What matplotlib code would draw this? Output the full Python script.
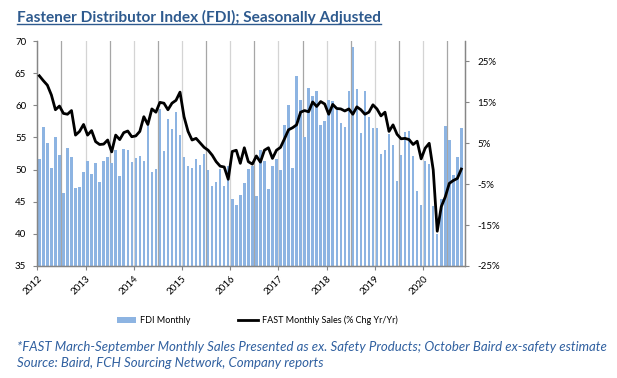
import matplotlib
matplotlib.use("Agg")
import matplotlib.pyplot as plt
import numpy as np
from matplotlib.lines import Line2D
from matplotlib.patches import Patch

plt.rcParams['font.family'] = ['Lato', 'DejaVu Sans']

# FDI monthly index, Jan 2012 .. Oct 2020
fdi = [51.7, 56.6, 54.2, 50.2, 55.1, 52.2, 46.4, 53.4, 52.0, 47.2, 47.3, 49.6,
       51.4, 49.3, 51.1, 48.1, 51.3, 51.9, 51.1, 53.1, 49.0, 53.2, 53.1, 51.2,
       51.8, 52.1, 51.4, 57.1, 49.7, 50.1, 59.4, 52.9, 57.8, 56.3, 59.0, 55.4,
       51.9, 50.6, 50.2, 51.6, 50.7, 52.5, 49.9, 47.5, 48.1, 50.1, 47.4, 50.5,
       45.5, 44.5, 46.1, 47.9, 50.1, 50.6, 45.9, 53.0, 51.4, 47.0, 50.6, 51.6,
       49.9, 57.0, 60.0, 50.2, 64.5, 60.8, 55.1, 62.7, 61.5, 62.2, 56.9, 57.5,
       60.8, 60.6, 59.2, 57.3, 56.6, 62.2, 69.1, 62.5, 55.7, 62.2, 58.2, 56.5,
       56.5, 52.5, 53.0, 55.6, 53.8, 48.3, 52.2, 55.8, 56.0, 52.1, 46.7, 44.5,
       51.4, 50.8, 44.4, 40.0, 45.5, 56.8, 54.6, 49.2, 52.0, 56.5]

# FAST monthly sales, % change yr/yr
fast = [21.5, 20.3, 19.2, 16.8, 13.2, 14.1, 12.3, 12.1, 13.0, 7.0, 7.9, 9.6,
        7.0, 8.1, 5.4, 4.7, 4.8, 5.8, 2.9, 7.0, 5.9, 7.6, 8.0, 6.6,
        6.8, 7.9, 11.5, 9.6, 13.4, 12.6, 15.0, 14.8, 13.2, 14.8, 15.5, 17.5,
        11.5, 7.9, 5.8, 6.2, 5.1, 4.0, 3.3, 2.1, 0.5, -0.6, -0.8, -3.8,
        3.0, 3.3, 0.1, 3.9, 0.5, -0.1, 1.9, 0.4, 3.3, 3.9, 1.3, 3.3,
        4.0, 6.1, 8.3, 8.8, 9.5, 12.6, 13.0, 12.7, 15.1, 14.0, 15.2, 14.6,
        12.1, 14.5, 13.5, 13.4, 12.9, 13.4, 12.1, 13.9, 13.2, 12.1, 12.6, 14.4,
        13.4, 11.7, 12.6, 7.9, 9.5, 7.2, 6.1, 6.2, 5.9, 4.7, 5.5, 1.2,
        3.8, 5.0, -1.5, -16.5, -10.5, -8.1, -4.8, -4.1, -3.6, -1.3]

years = ['2012', '2013', '2014', '2015', '2016', '2017', '2018', '2019', '2020']

months = np.arange(len(fdi)) + 0.5

fig = plt.figure(figsize=(6.17, 3.78), dpi=100)
ax = fig.add_axes([0.0605, 0.2963, 0.6931, 0.5952])

# vertical gridlines every half year
for m in range(6, 108, 6):
    c = '#D4D4D4' if m % 12 == 0 else '#A6A6A6'
    ax.axvline(m, color=c, linewidth=0.9, zorder=0)

ax.bar(months, fdi, width=0.62, color='#8DB4E2', zorder=2)
ax.set_ylim(35, 70)
ax.set_xlim(0, 106.4)
ax.set_yticks(range(35, 71, 5))
ax.set_xticks([12 * i for i in range(len(years))])
ax.set_xticklabels(years, rotation=45, ha='right', rotation_mode='anchor')

ax2 = ax.twinx()
ax2.plot(months, fast, color='black', linewidth=2, solid_joinstyle='round', zorder=3)
ax2.set_ylim(-25, 30)
ax2.set_yticks(range(-25, 26, 10))
ax2.set_yticklabels([f'{v}%' for v in range(-25, 26, 10)])

for a in (ax, ax2):
    a.spines['top'].set_visible(False)
    for s in ('left', 'right', 'bottom'):
        a.spines[s].set_color('#868686')
        a.spines[s].set_linewidth(0.9)
    a.tick_params(colors='#868686', labelcolor='black', labelsize=7, length=3, width=0.8)
ax.tick_params(axis='x', pad=3)
ax2.tick_params(axis='y', pad=6)
ax.tick_params(axis='y', pad=5)

handles = [Patch(facecolor='#8DB4E2', edgecolor='none'),
           Line2D([0], [0], color='black', linewidth=2)]
fig.legend(handles, ['FDI Monthly', 'FAST Monthly Sales (% Chg Yr/Yr)'],
           loc='center', bbox_to_anchor=(0.4165, 0.153), ncol=2, frameon=False,
           fontsize=6.5, handlelength=2.2, columnspacing=5.3, handletextpad=0.4)

blue = '#3060A0'
title = fig.text(0.028, 0.955, 'Fastener Distributor Index (FDI); Seasonally Adjusted',
                 fontsize=11.1, fontweight='bold', color='#2E5A8E', va='center')
fig.text(0.028, 0.083, '*FAST March-September Monthly Sales Presented as ex. Safety Products; '
         'October Baird ex-safety estimate', fontsize=9.5, style='italic', color=blue, va='center')
fig.text(0.028, 0.040, 'Source: Baird, FCH Sourcing Network, Company reports',
         fontsize=9.5, style='italic', color=blue, va='center')

# underline the title
fig.canvas.draw()
bb = title.get_window_extent().transformed(fig.transFigure.inverted())
fig.add_artist(Line2D([bb.x0, bb.x1], [bb.y0 + 0.002, bb.y0 + 0.002],
                      color='#2E5A8E', linewidth=1.0, transform=fig.transFigure))

fig.savefig('out.png', dpi=100)
